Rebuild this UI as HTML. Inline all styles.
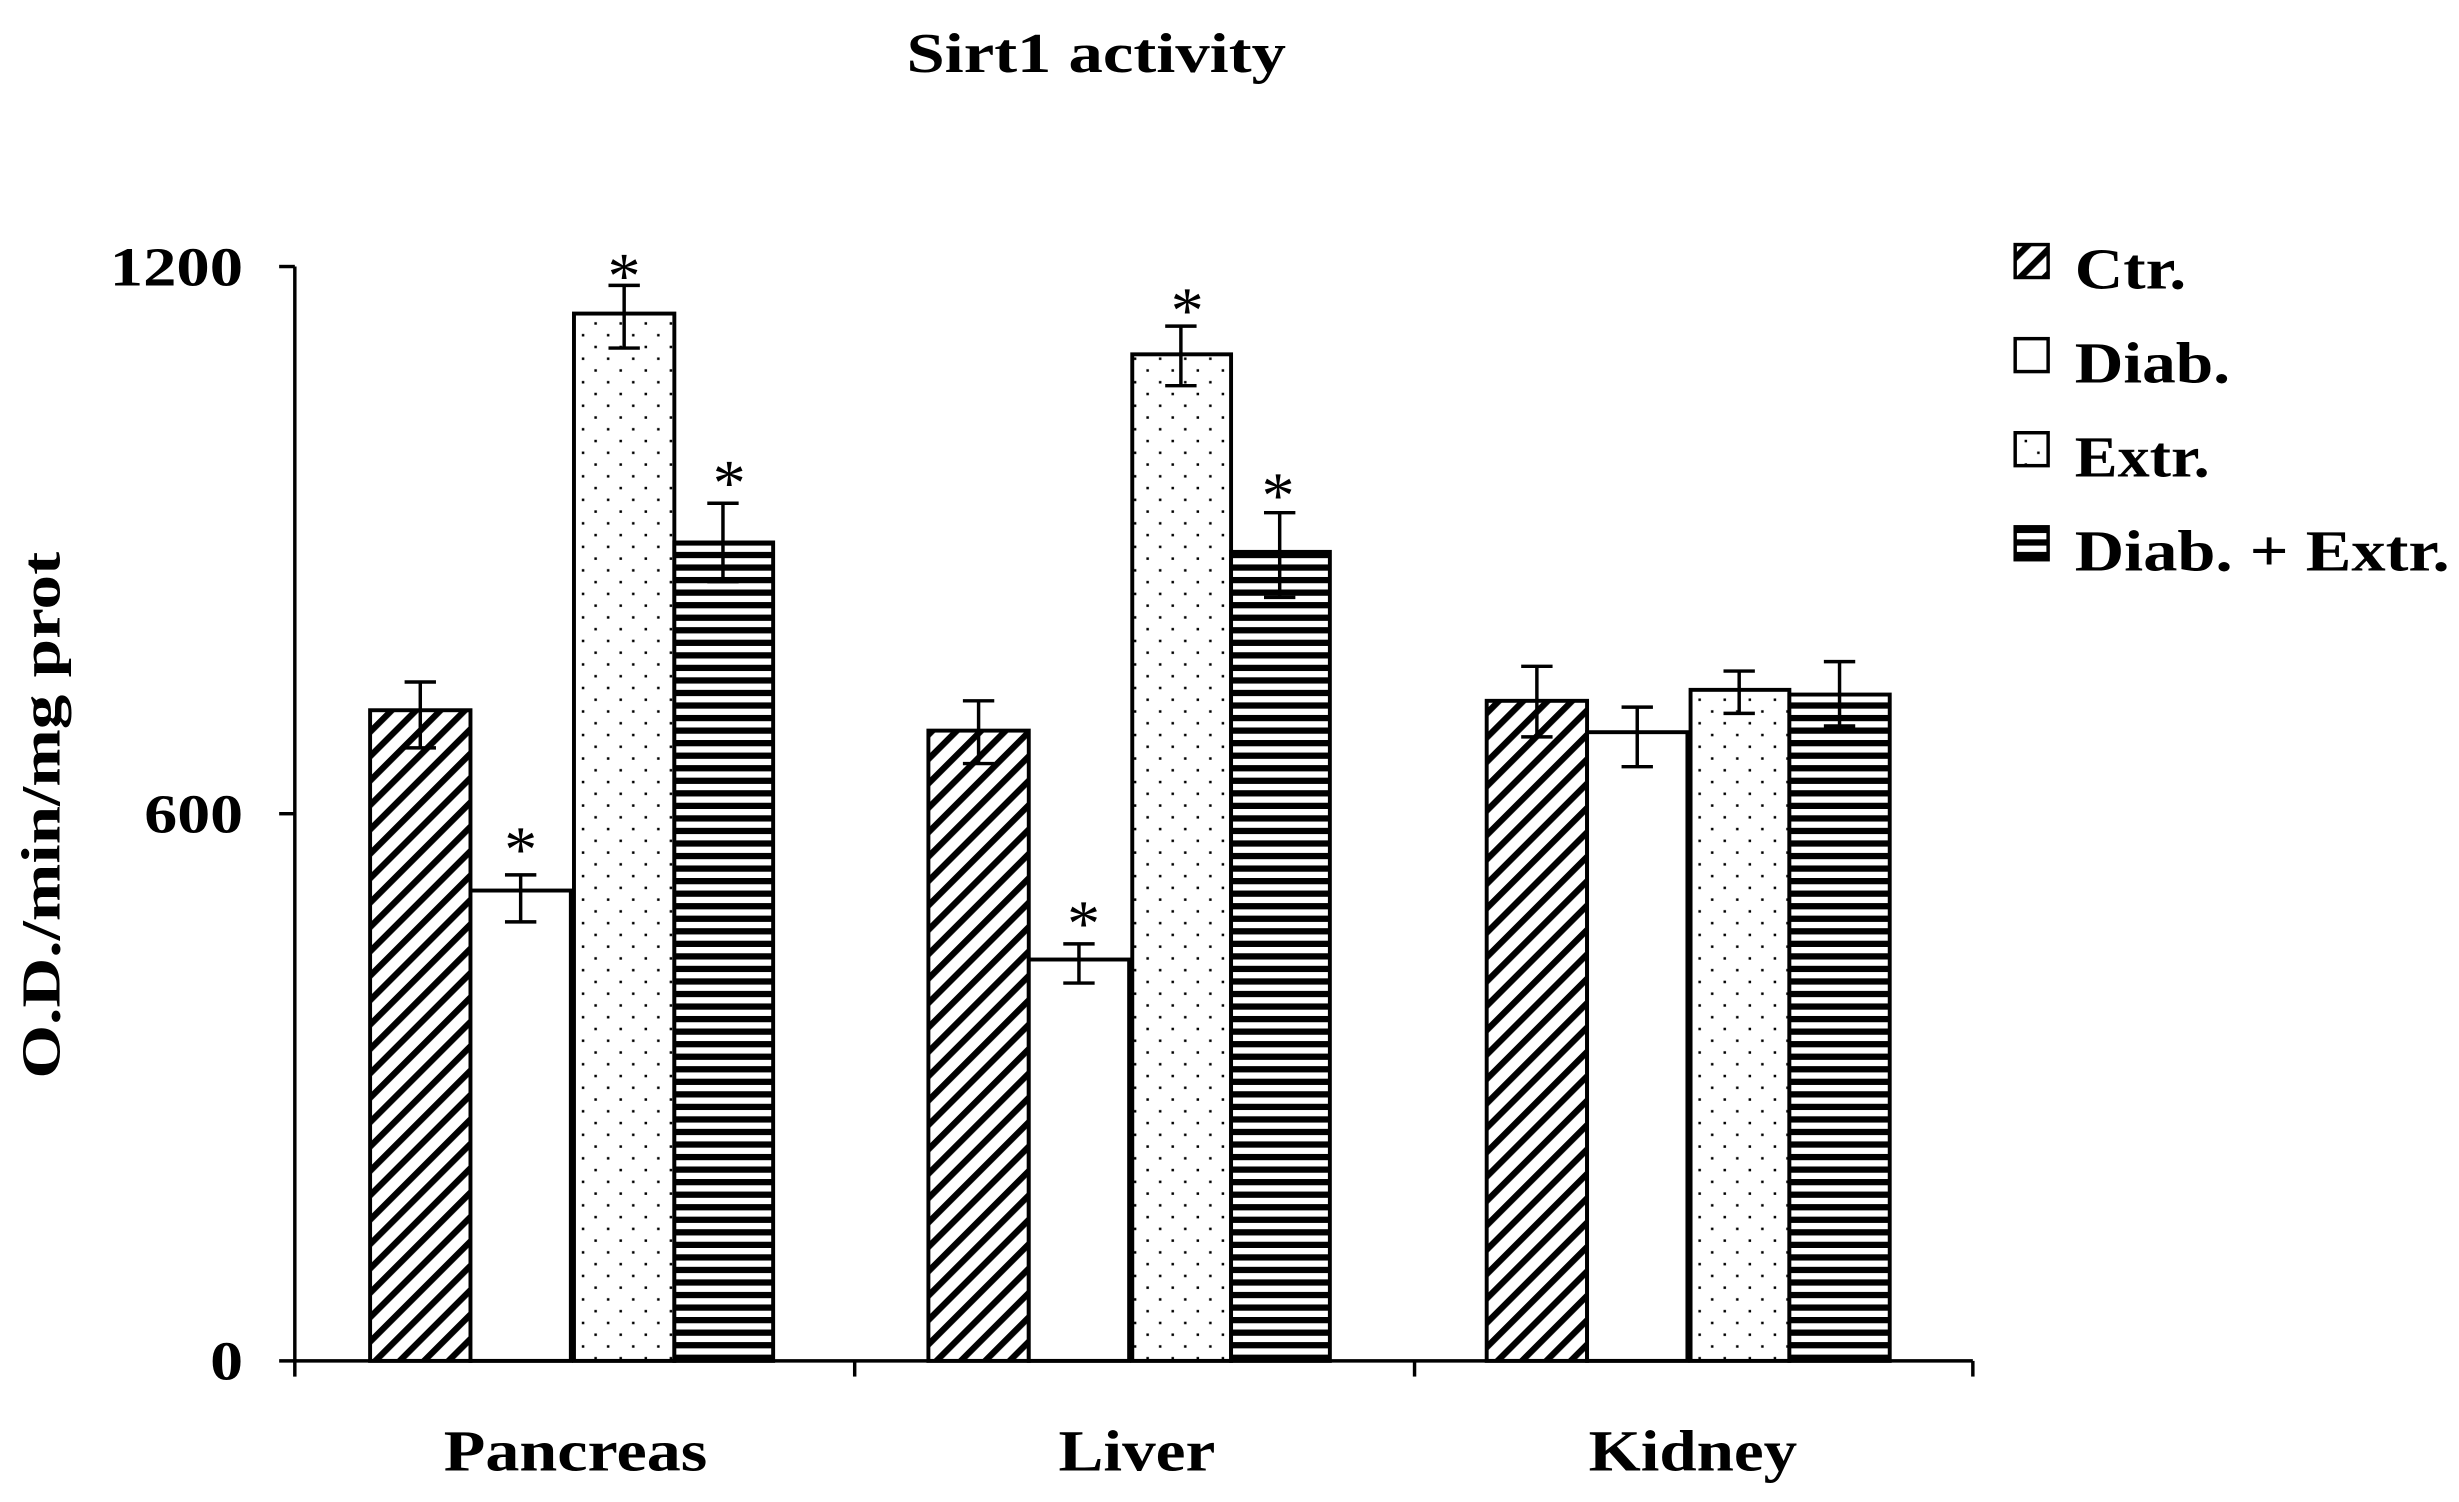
<!DOCTYPE html>
<html><head><style>html,body{margin:0;padding:0;background:#fff}svg{display:block}</style></head>
<body>
<svg width="2459" height="1502" viewBox="0 0 1568 958" preserveAspectRatio="none" xmlns="http://www.w3.org/2000/svg" font-family="Liberation Serif, serif" font-weight="bold">
<defs>
<pattern id="diag" patternUnits="userSpaceOnUse" width="11" height="11" patternTransform="rotate(-45)">
<rect width="11" height="11" fill="#fff"/><rect width="11" height="4" fill="#000"/></pattern>
<pattern id="hor" patternUnits="userSpaceOnUse" width="8" height="8">
<rect width="8" height="8" fill="#fff"/><rect y="0" width="8" height="4" fill="#000"/></pattern>
<pattern id="dots" patternUnits="userSpaceOnUse" width="16" height="15">
<rect width="16" height="15" fill="#fff"/><rect x="3" y="3" width="1.6" height="1.6" fill="#000"/><rect x="11" y="10.5" width="1.6" height="1.6" fill="#000"/></pattern>
</defs>
<rect width="1568" height="958" fill="#fff"/>
<text x="578" y="46" font-size="36" textLength="242" lengthAdjust="spacingAndGlyphs">Sirt1 activity</text>
<g stroke="#000" stroke-width="2.2" fill="none">
<line x1="188" y1="170" x2="188" y2="878"/>
<line x1="178" y1="868" x2="1258" y2="868"/>
<line x1="178" y1="170" x2="188" y2="170"/>
<line x1="178" y1="519" x2="188" y2="519"/>
<line x1="545" y1="868" x2="545" y2="878"/>
<line x1="902" y1="868" x2="902" y2="878"/>
<line x1="1258" y1="868" x2="1258" y2="878"/>
</g>
<g font-size="35">
<text x="70" y="182" textLength="85" lengthAdjust="spacingAndGlyphs">1200</text>
<text x="92" y="531" textLength="63" lengthAdjust="spacingAndGlyphs">600</text>
<text x="134" y="880" textLength="21" lengthAdjust="spacingAndGlyphs">0</text>
</g>
<text transform="translate(38,688) rotate(-90)" font-size="35" textLength="336" lengthAdjust="spacingAndGlyphs">O.D./min/mg prot</text>
<g font-size="37">
<text x="283" y="938" textLength="168" lengthAdjust="spacingAndGlyphs">Pancreas</text>
<text x="675" y="938" textLength="100" lengthAdjust="spacingAndGlyphs">Liver</text>
<text x="1013" y="938" textLength="133" lengthAdjust="spacingAndGlyphs">Kidney</text>
</g>
<g stroke="#000" stroke-width="2.5">
<rect x="236" y="453" width="64" height="415" fill="url(#diag)"/>
<rect x="300" y="568" width="64" height="300" fill="#fff"/>
<rect x="366" y="200" width="64" height="668" fill="url(#dots)"/>
<rect x="430" y="346" width="63" height="522" fill="url(#hor)"/>
<rect x="592" y="466" width="64" height="402" fill="url(#diag)"/>
<rect x="656" y="612" width="64" height="256" fill="#fff"/>
<rect x="722" y="226" width="63" height="642" fill="url(#dots)"/>
<rect x="785" y="352" width="63" height="516" fill="url(#hor)"/>
<rect x="948" y="447" width="64" height="421" fill="url(#diag)"/>
<rect x="1012" y="467" width="64" height="401" fill="#fff"/>
<rect x="1078" y="440" width="63" height="428" fill="url(#dots)"/>
<rect x="1141" y="443" width="64" height="425" fill="url(#hor)"/>
</g>
<g stroke="#000" stroke-width="2.2" fill="none">
<path d="M268 435V477M258 435H278M258 477H278"/>
<path d="M332 558V588M322 558H342M322 588H342"/>
<path d="M398 182V222M388 182H408M388 222H408"/>
<path d="M461 321V371M451 321H471M451 371H471"/>
<path d="M624 447V487M614 447H634M614 487H634"/>
<path d="M688 602V627M678 602H698M678 627H698"/>
<path d="M753 208V246M743 208H763M743 246H763"/>
<path d="M816 327V381M806 327H826M806 381H826"/>
<path d="M980 425V470M970 425H990M970 470H990"/>
<path d="M1044 451V489M1034 451H1054M1034 489H1054"/>
<path d="M1109 428V455M1099 428H1119M1099 455H1119"/>
<path d="M1173 422V463M1163 422H1183M1163 463H1183"/>
</g>
<g font-size="42" text-anchor="middle" font-weight="normal">
<text x="398" y="190">*</text><text x="332" y="556">*</text><text x="465" y="322">*</text>
<text x="757" y="212">*</text><text x="691" y="603">*</text><text x="815" y="330">*</text>
</g>
<g stroke="#000" stroke-width="2.2">
<rect x="1285" y="156" width="21" height="21" fill="url(#diag)"/>
<rect x="1285" y="216" width="21" height="21" fill="#fff"/>
<rect x="1285" y="276" width="21" height="21" fill="url(#dots)"/>
<rect x="1285" y="336" width="21" height="21" fill="url(#hor)"/>
</g>
<g font-size="37">
<text x="1323" y="184" textLength="71" lengthAdjust="spacingAndGlyphs">Ctr.</text>
<text x="1323" y="244" textLength="99" lengthAdjust="spacingAndGlyphs">Diab.</text>
<text x="1323" y="304" textLength="86" lengthAdjust="spacingAndGlyphs">Extr.</text>
<text x="1323" y="364" textLength="239" lengthAdjust="spacingAndGlyphs">Diab. + Extr.</text>
</g>
</svg>
</body></html>
